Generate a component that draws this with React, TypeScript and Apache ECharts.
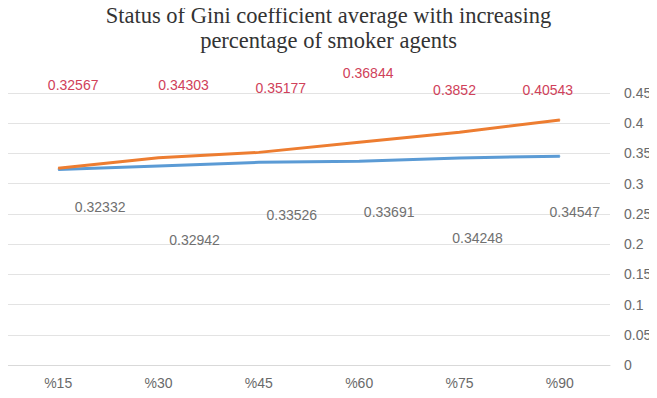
import React, { useEffect, useRef } from "react";
import * as echarts from "echarts";

// Share of smoker agents in the population
const categories = ["%15", "%30", "%45", "%60", "%75", "%90"];

// Average Gini coefficient per scenario
const seriesA = [0.32332, 0.32942, 0.33526, 0.33691, 0.34248, 0.34547];
const seriesB = [0.32567, 0.34303, 0.35177, 0.36844, 0.3852, 0.40543];

// Value axis ticks
const yMin = 0;
const yMax = 0.45;
const yStep = 0.05;

// Hand-placed label offsets (px) relative to each point
const labelShiftA: [number, number][] = [
  [42, 37],
  [36, 74],
  [33, 53],
  [30, 51],
  [18, 80],
  [15, 56],
];
const labelShiftB: [number, number][] = [
  [15, -83],
  [25, -73],
  [22, -64],
  [9, -69],
  [-5, -42],
  [-12, -30],
];

const labelFont = '"Liberation Sans", Arial, sans-serif';

export default function App() {
  const ref = useRef<HTMLDivElement>(null);

  useEffect(() => {
    if (!ref.current) return;
    const chart = echarts.init(ref.current, null, { renderer: "svg" });

    const withLabels = (
      values: number[],
      shifts: [number, number][],
      color: string
    ) =>
      values.map((v, i) => ({
        value: v,
        label: {
          show: true,
          position: "inside",
          offset: shifts[i],
          color,
          fontSize: 14,
          fontFamily: labelFont,
          formatter: () => String(v),
        },
      }));

    chart.setOption({
      animation: false,
      backgroundColor: "#ffffff",
      title: {
        text: "Status of Gini coefficient average with increasing\npercentage of smoker agents",
        left: "center",
        top: -2,
        textStyle: {
          fontFamily: '"Liberation Serif", "Times New Roman", serif',
          fontSize: 22.5,
          fontWeight: "normal",
          color: "#333333",
          lineHeight: 25,
        },
      },
      grid: { left: 8, right: 47, top: 93, bottom: 33 },
      xAxis: {
        type: "category",
        data: categories,
        boundaryGap: true,
        axisLine: { show: true, lineStyle: { color: "#d9d9d9", width: 1 } },
        axisTick: { show: false },
        axisLabel: {
          color: "#6a6a6a",
          fontSize: 14,
          fontFamily: labelFont,
          margin: 11,
        },
      },
      yAxis: {
        type: "value",
        position: "right",
        min: yMin,
        max: yMax,
        interval: yStep,
        axisLine: { show: false },
        axisTick: { show: false },
        splitLine: { lineStyle: { color: "#e3e3e3", width: 1 } },
        axisLabel: {
          color: "#6a6a6a",
          fontSize: 14,
          fontFamily: labelFont,
          margin: 14,
          formatter: (v: number) => String(+v.toFixed(2)),
        },
      },
      series: [
        {
          name: "A",
          type: "line",
          data: withLabels(seriesA, labelShiftA, "#707070"),
          symbol: "circle",
          symbolSize: 1,
          itemStyle: { color: "#5b9bd5" },
          lineStyle: { color: "#5b9bd5", width: 3 },
        },
        {
          name: "B",
          type: "line",
          data: withLabels(seriesB, labelShiftB, "#d0415a"),
          symbol: "circle",
          symbolSize: 1,
          itemStyle: { color: "#ed7d31" },
          lineStyle: { color: "#ed7d31", width: 3 },
        },
      ],
    });

    return () => chart.dispose();
  }, []);

  return <div ref={ref} style={{ width: 657, height: 398, margin: -8 }} />;
}
